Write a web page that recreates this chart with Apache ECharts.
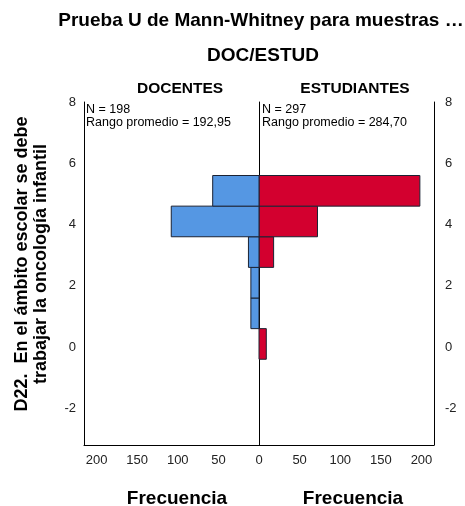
<!DOCTYPE html>
<html lang="es">
<head>
    <meta charset="UTF-8">
    <title>Mann-Whitney DOC/ESTUD</title>
    <script src="https://cdn.jsdelivr.net/npm/echarts@6/dist/echarts.min.js"></script>
    <style>
        body { margin: 0; background: #fff; }
        #chart { width: 465px; height: 506px; }
    </style>
</head>
<body>
    <div id="chart"></div>
    <script>
        // bins of width 1 (lower edge of each bin on the value axis)
        var binStart = [-0.4, 0.6, 1.6, 2.6, 3.6, 4.6]
        var binWidth = 1
        var docentes = [0, 10, 10, 13, 108, 57]     // frecuencia DOCENTES
        var estudiantes = [9, 0, 0, 18, 72, 198]    // frecuencia ESTUDIANTES
        var yTicks = [-2, 0, 2, 4, 6, 8]
        var xTicks = [0, 50, 100, 150, 200]

        var fontFam = '"Liberation Sans", Arial, sans-serif'

        function binData(counts) {
            var out = []
            for (var i = 0; i < counts.length; i++) {
                if (counts[i] > 0) out.push([counts[i], binStart[i], binStart[i] + binWidth])
            }
            return out
        }

        function drawBar(color) {
            return function (params, api) {
                var p1 = api.coord([0, api.value(2)])
                var p2 = api.coord([api.value(0), api.value(1)])
                return {
                    type: 'rect',
                    shape: {
                        x: Math.min(p1[0], p2[0]),
                        y: Math.min(p1[1], p2[1]),
                        width: Math.abs(p2[0] - p1[0]),
                        height: Math.abs(p2[1] - p1[1])
                    },
                    style: { fill: color, stroke: '#1b2233', lineWidth: 1 }
                }
            }
        }

        var axisLn = { show: true, onZero: false, lineStyle: { color: '#000', width: 1 } }
        var yBase = {
            type: 'value', min: -3.2, max: 8,
            splitLine: { show: false },
            axisTick: { show: false },
            axisLine: axisLn
        }
        var tickFont = { color: '#222', fontSize: 13, fontFamily: fontFam }

        var mChart = echarts.init(document.getElementById('chart'))
        var option = {
            animation: false,
            title: [
                { text: 'Prueba U de Mann-Whitney para muestras …', left: 256, top: 6, textAlign: 'center',
                  textStyle: { fontFamily: fontFam, fontSize: 19, fontWeight: 'bold', color: '#000' } },
                { text: 'DOC/ESTUD', left: 258, top: 41, textAlign: 'center',
                  textStyle: { fontFamily: fontFam, fontSize: 19, fontWeight: 'bold', color: '#000' } },
                { text: 'DOCENTES', left: 175, top: 76, textAlign: 'center',
                  textStyle: { fontFamily: fontFam, fontSize: 15.5, fontWeight: 'bold', color: '#000' } },
                { text: 'ESTUDIANTES', left: 350, top: 76, textAlign: 'center',
                  textStyle: { fontFamily: fontFam, fontSize: 15.5, fontWeight: 'bold', color: '#000' } },
                { text: 'Frecuencia', left: 172, top: 484, textAlign: 'center',
                  textStyle: { fontFamily: fontFam, fontSize: 19, fontWeight: 'bold', color: '#000' } },
                { text: 'Frecuencia', left: 348, top: 484, textAlign: 'center',
                  textStyle: { fontFamily: fontFam, fontSize: 19, fontWeight: 'bold', color: '#000' } }
            ],
            graphic: [
                { type: 'text', x: 22, y: 264, rotation: Math.PI / 2,
                  style: { text: 'D22.  En el ámbito escolar se debe', font: 'bold 18px ' + fontFam,
                           fill: '#000', align: 'center', verticalAlign: 'middle' } },
                { type: 'text', x: 41, y: 264, rotation: Math.PI / 2,
                  style: { text: 'trabajar la oncología infantil', font: 'bold 18px ' + fontFam,
                           fill: '#000', align: 'center', verticalAlign: 'middle' } },
                { type: 'text', x: 86, y: 103,
                  style: { text: 'N = 198\nRango promedio = 192,95', font: '12.5px ' + fontFam,
                           fill: '#000', lineHeight: 13 } },
                { type: 'text', x: 262, y: 103,
                  style: { text: 'N = 297\nRango promedio = 284,70', font: '12.5px ' + fontFam,
                           fill: '#000', lineHeight: 13 } }
            ],
            grid: [
                { left: 84, top: 102, width: 175, height: 343 },
                { left: 259, top: 102, width: 175, height: 343 }
            ],
            xAxis: [
                { gridIndex: 0, type: 'value', inverse: true, min: 0, max: 215.4, interval: 50,
                  splitLine: { show: false }, axisTick: { show: false }, axisLine: axisLn,
                  axisLabel: Object.assign({ customValues: xTicks.slice(1), margin: 9 }, tickFont) },
                { gridIndex: 1, type: 'value', min: 0, max: 215.4, interval: 50,
                  splitLine: { show: false }, axisTick: { show: false }, axisLine: axisLn,
                  axisLabel: Object.assign({ customValues: xTicks, margin: 9 }, tickFont) }
            ],
            yAxis: [
                Object.assign({}, yBase, { gridIndex: 0, position: 'left',
                  axisLabel: Object.assign({ customValues: yTicks, margin: 8 }, tickFont) }),
                Object.assign({}, yBase, { gridIndex: 1, position: 'right',
                  axisLabel: Object.assign({ customValues: yTicks, margin: 11 }, tickFont) }),
                Object.assign({}, yBase, { gridIndex: 1, position: 'left', axisLabel: { show: false } })
            ],
            series: [
                { type: 'custom', name: 'DOCENTES', xAxisIndex: 0, yAxisIndex: 0,
                  renderItem: drawBar('#5597e3'), data: binData(docentes), z: 3 },
                { type: 'custom', name: 'ESTUDIANTES', xAxisIndex: 1, yAxisIndex: 1,
                  renderItem: drawBar('#d3002f'), data: binData(estudiantes), z: 2 }
            ]
        }
        mChart.setOption(option)
    </script>
</body>
</html>
